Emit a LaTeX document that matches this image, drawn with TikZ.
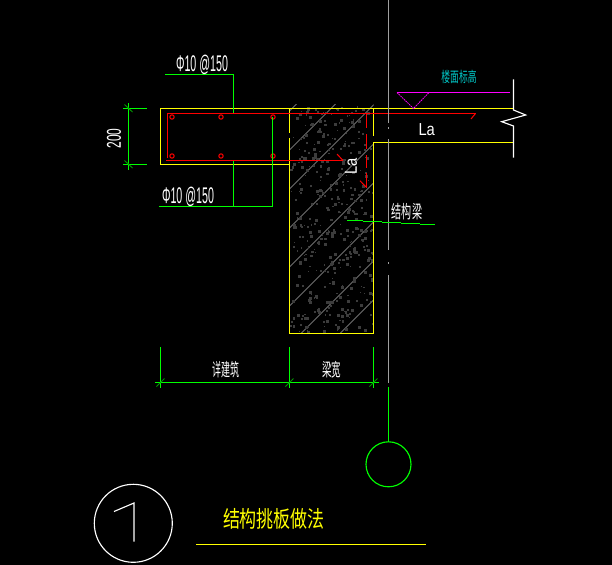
\documentclass[tikz,border=0pt]{standalone}
\usepackage{fontspec}
\setmainfont{Liberation Sans}
\newfontfamily\cjk{Noto Sans CJK SC}
\usepackage{tikz}
\usetikzlibrary{calc}
\definecolor{cadyellow}{RGB}{255,255,0}
\definecolor{cadgreen}{RGB}{0,255,0}
\definecolor{cadred}{RGB}{255,0,0}
\definecolor{cadpink}{RGB}{255,0,255}
\definecolor{cadcyan}{RGB}{0,200,200}
\definecolor{cadgray}{RGB}{110,110,110}
\definecolor{cadspeck}{RGB}{60,60,60}
\tikzset{
  concrete/.style = {draw=cadyellow, line width=1.4pt},
  rebar/.style = {draw=cadred, line width=1.2pt},
  rebardot/.style = {draw=cadred, line width=.75pt},
  leader/.style = {draw=cadgreen, line width=1.2pt},
  slash/.style = {draw=green!60!black, line width=.7pt},
  axisline/.style = {draw=gray!75, line width=1.2pt},
  hatchline/.style = {draw=cadgray, line width=.6pt},
  outline/.style = {draw=white, line width=.85pt},
  label/.style = {white, inner sep=0pt, font=\fontsize{17}{17}\selectfont},
  cjklabel/.style = {white, inner sep=0pt, font=\cjk\fontsize{13.5}{13.5}\selectfont}
}

\begin{document}
\begin{tikzpicture}[x=.75pt, y=-.75pt]
    \useasboundingbox (0,0) rectangle (612,565);
    \fill[black] (0,0) rectangle (612,565);

    % beam fill
    \begin{scope}
	\clip (289.5,104) rectangle (373.5,333);
	\foreach \c in {400.5,439.5,...,680}
		\draw[hatchline] (289.5,{\c-289.5}) -- ({\c-100},100);
	\pgfmathsetseed{4217}
	\foreach \i in {1,...,420}{
		\pgfmathsetmacro{\px}{290+83*rnd}
		\pgfmathsetmacro{\py}{106+226*rnd}
		\pgfmathsetmacro{\ps}{1+2.2*rnd}
		\fill[cadspeck] (\px,\py) rectangle ++(\ps,\ps);
	}
    \end{scope}

    % concrete outline
    \draw[concrete] (513,108.5) -- (160.5,108.5) -- (160.5,164.5) -- (289.5,164.5);
    \draw[concrete] (289.5,108.5) -- (289.5,133);
    \draw[concrete] (289.5,138) -- (289.5,333.5) -- (373.5,333.5) -- (373.5,142.5) -- (513,142.5);
    \draw[concrete] (373.5,108.5) -- (373.5,135.5);

    % rebars
    \draw[rebar] (167.5,158) -- (167.5,113.5) -- (475.5,113.5);
    \draw[rebardot] (475.5,113.5) -- (471,119);
    \draw[rebar] (166,160.5) -- (343,160.5);
    \draw[rebardot] (343,160.5) -- (337,154);
    \draw[rebar] (366.5,113.5) -- (366.5,128);
    \draw[rebar] (366.5,134) -- (366.5,149);
    \draw[rebar] (366.5,155) -- (366.5,168);
    \draw[rebar] (366.5,173) -- (366.5,187.5);
    \draw[rebardot] (366.5,187.5) -- (360,180.7);
    \foreach \x in {172,221,273}{
		\draw[rebardot] (\x,117) circle (2.2);
		\draw[rebardot] (\x,156) circle (2.2);
    }

    % center line
    \draw[axisline] (388.5,0) -- (388.5,123);
    \draw[axisline] (388.5,127) -- (388.5,128.5);
    \draw[axisline] (388.5,139) -- (388.5,250);
    \draw[axisline] (388.5,262) -- (388.5,263.5);
    \draw[axisline] (388.5,275) -- (388.5,383);

    % leaders
    \draw[leader] (165,74.5) -- (233.5,74.5) -- (233.5,113);
    \draw[leader] (159,206.5) -- (272.5,206.5) -- (272.5,117);
    \draw[leader] (233.5,161) -- (233.5,206.5);
    \draw[leader] (347,220.5) -- (363,220.5);
    \draw[leader] (363,221.5) -- (382,221.5);
    \draw[leader] (382,222.5) -- (401,222.5);
    \draw[leader] (401,223.5) -- (420,223.5);
    \draw[leader] (420,224.5) -- (435,224.5);

    % dimensions
    \draw[leader] (128.5,103) -- (128.5,169.5);
    \draw[leader] (123,108.5) -- (147,108.5);
    \draw[leader] (123,164.5) -- (147,164.5);
    \draw[slash] (124.5,104.5) -- (132.5,112);
    \draw[slash] (124.5,160.5) -- (132.5,168);
    \draw[leader] (155,382.5) -- (379,382.5);
    \foreach \x in {160.5,289.5,373.5}{
		\draw[leader] (\x,347) -- (\x,388);
		\draw[slash] ({\x-4},386.5) -- ({\x+4},378.5);
    }

    % level mark and break line
    \draw[draw=cadpink, line width=1.2pt] (397,92.5) -- (510,92.5);
    \draw[draw=cadpink, line width=.6pt, dash pattern=on 1.2pt off .6pt] (397,92.5) -- (413.5,108.5) -- (429,92.5);
    \draw[outline] (513.5,79.3) -- (513.5,110) -- (525.7,115) -- (501.7,121.7) -- (513.5,126) -- (513.5,157.7);

    % section marks
    \draw[draw=cadgreen, line width=1.2pt] (388.5,387) -- (388.5,442);
    \draw[draw=cadgreen, line width=.85pt] (388.5,464.3) circle (22.5);
    \draw[outline] (133.3,523.3) circle (39);
    \draw[outline] (114,511.5) -- (134,503) -- (134,541.7);
    \draw[concrete] (196,544.5) -- (426,544.5);

    % texts
    \node[label, xscale=.47] (topbar) at (202,65) {Φ10 @150};
    \node[label, xscale=.47] (botbar) at (188,197) {Φ10 @150};
    \node[label, font=\fontsize{15}{15}\selectfont, yscale=.6, rotate=90] (slabdim) at (114,138.5) {200};
    \node[label, font=\fontsize{13}{13}\selectfont, xscale=.85] (laslab) at (426.7,130) {La};
    \node[label, font=\fontsize{13}{13}\selectfont, yscale=.85, rotate=90] (labeam) at (351,166) {La};
    \node[cjklabel, cadcyan, font=\cjk\fontsize{11}{11}\selectfont, xscale=.6] (level) at (459,76.7) {楼面标高};
    \node[cjklabel, xscale=.56] (beamname) at (407,212) {结构梁};
    \node[cjklabel, xscale=.5] (arch) at (225.6,369.5) {详建筑};
    \node[cjklabel, xscale=.53] (beamwidth) at (331.7,369.5) {梁宽};
    \node[cjklabel, cadyellow, font=\cjk\fontsize{17}{17}\selectfont, xscale=.75] (title) at (274,518.5) {结构挑板做法};
\end{tikzpicture}
\end{document}
